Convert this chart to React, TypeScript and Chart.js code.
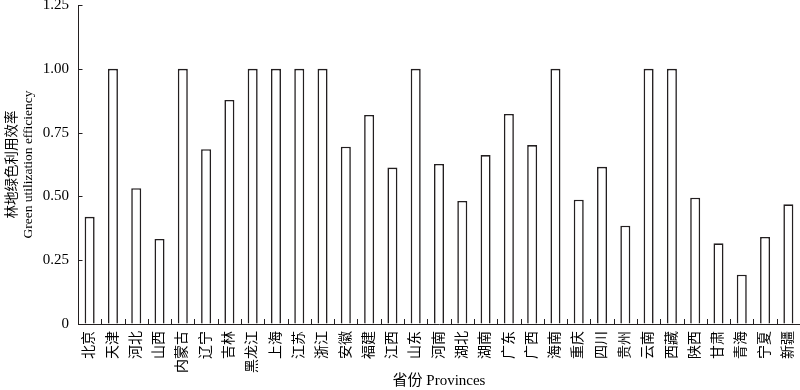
import React, { useEffect, useRef } from "react";
import { Chart, registerables } from "chart.js";

Chart.register(...registerables);

const provinces = [
  "北京", "天津", "河北", "山西", "内蒙古", "辽宁", "吉林", "黑龙江", "上海", "江苏",
  "浙江", "安徽", "福建", "江西", "山东", "河南", "湖北", "湖南", "广东", "广西",
  "海南", "重庆", "四川", "贵州", "云南", "西藏", "陕西", "甘肃", "青海", "宁夏", "新疆",
];

const efficiency = [
  0.42, 1.0, 0.532, 0.333, 1.0, 0.685, 0.878, 1.0, 1.0, 1.0,
  1.0, 0.695, 0.819, 0.613, 1.0, 0.627, 0.482, 0.662, 0.823, 0.701,
  1.0, 0.487, 0.616, 0.385, 1.0, 1.0, 0.495, 0.316, 0.193, 0.341, 0.469,
];

const yTitleLines = ["林地绿色利用效率", "Green utilization efficiency"];
const xTitle = "省份 Provinces";

const FONT = "'Liberation Serif', 'Noto Sans CJK SC', serif";
const INK = "#231f20";

const innerTicks = {
  id: "innerTicks",
  afterDraw(chart: any) {
    const { ctx } = chart;
    const xs = chart.scales.x;
    const ys = chart.scales.y;
    ctx.save();
    ctx.strokeStyle = INK;
    ctx.lineWidth = 1;
    ctx.beginPath();
    const ax = Math.round(xs.left) + 0.5;
    ys.ticks.forEach((t: any) => {
      if (t.value === 0) return;
      const py = Math.round(ys.getPixelForValue(t.value)) + 0.5;
      ctx.moveTo(ax, py);
      ctx.lineTo(ax + 4, py);
    });
    const by = Math.round(ys.getPixelForValue(0));
    for (let i = 0; i < provinces.length - 1; i++) {
      const px = Math.round((xs.getPixelForValue(i) + xs.getPixelForValue(i + 1)) / 2) + 0.5;
      ctx.moveTo(px, by);
      ctx.lineTo(px, by - 5);
    }
    ctx.stroke();
    ctx.restore();
  },
};

function zeroPadding(s: any) {
  s.paddingTop = 0;
  s.paddingBottom = 0;
  s.paddingLeft = 0;
  s.paddingRight = 0;
}

export default function App() {
  const ref = useRef<HTMLCanvasElement | null>(null);

  useEffect(() => {
    if (!ref.current) return;
    const chart = new Chart(ref.current, {
      type: "bar",
      data: {
        labels: provinces,
        datasets: [
          {
            data: efficiency,
            backgroundColor: "#ffffff",
            borderColor: INK,
            borderWidth: 1.6,
            barPercentage: 0.43,
            categoryPercentage: 1,
          },
        ],
      },
      options: {
        animation: false,
        responsive: false,
        maintainAspectRatio: false,
        layout: { padding: { left: 0, right: 0, top: 5, bottom: 0 } },
        plugins: {
          legend: { display: false },
          tooltip: { enabled: false },
        },
        scales: {
          x: {
            grid: { display: true, drawOnChartArea: false, drawTicks: false },
            border: { display: true, color: INK, width: 1 },
            ticks: {
              color: "#000",
              font: { family: FONT, size: 14 },
              maxRotation: 90,
              minRotation: 90,
              padding: 7,
              autoSkip: false,
            },
            title: {
              display: true,
              text: xTitle,
              color: "#000",
              font: { family: FONT, size: 15 },
              padding: { top: 4, bottom: 0 },
            },
            afterFit(s: any) {
              s.height = 66;
              zeroPadding(s);
            },
          },
          y: {
            min: 0,
            max: 1.25,
            grid: { display: true, drawOnChartArea: false, drawTicks: false },
            border: { display: true, color: INK, width: 1 },
            ticks: {
              stepSize: 0.25,
              color: "#000",
              font: { family: FONT, size: 15 },
              padding: 9,
              callback: (v: any) => (Number(v) === 0 ? "0" : Number(v).toFixed(2)),
            },
            title: {
              display: true,
              text: yTitleLines,
              color: "#000",
              font: { family: FONT, size: 13.5, lineHeight: 1.15 },
              padding: { top: 5, bottom: 4 },
            },
            afterFit(s: any) {
              s.width = 78;
              zeroPadding(s);
            },
          },
        },
      },
      plugins: [innerTicks],
    });
    return () => chart.destroy();
  }, []);

  return (
    <div style={{ position: "fixed", left: 0, top: 0, width: 800, height: 390, background: "#fff" }}>
      <canvas ref={ref} width={800} height={390} style={{ width: 800, height: 390 }} />
    </div>
  );
}
